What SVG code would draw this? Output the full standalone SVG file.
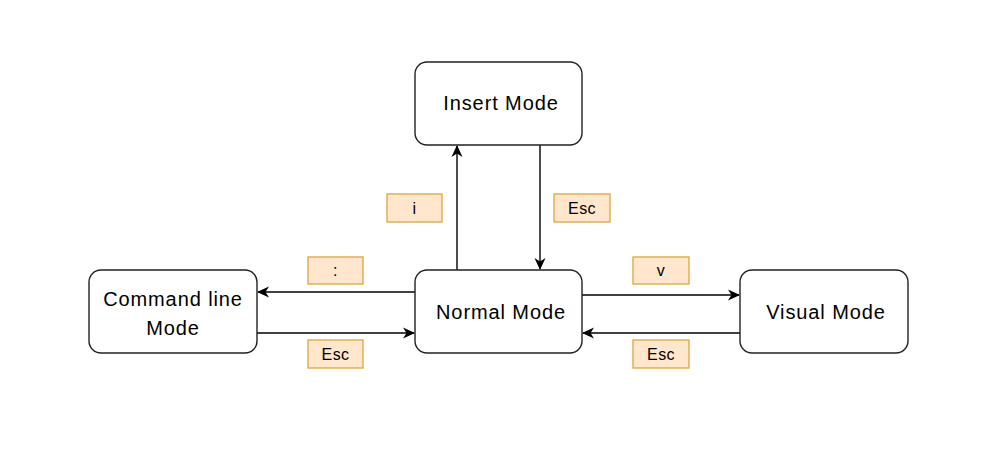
<svg xmlns="http://www.w3.org/2000/svg" width="1008" height="451" viewBox="0 0 1008 451">
<defs>
<style>
.node{fill:#fff;stroke:#222;stroke-width:1.4}
.nt{font-family:"Liberation Sans",Arial,sans-serif;font-size:20px;letter-spacing:0.9px;fill:#000;text-anchor:middle;dominant-baseline:central}
.lb{fill:#ffe6cc;stroke:#dfab48;stroke-width:1.4}
.lt{font-family:"Liberation Sans",Arial,sans-serif;font-size:16px;letter-spacing:0.4px;fill:#000;text-anchor:middle;dominant-baseline:central}
.edge{stroke:#000;stroke-width:1.4;fill:none;marker-end:url(#arr)}
</style>
<marker id="arr" viewBox="0 0 12 12" refX="11" refY="6" markerWidth="12" markerHeight="12" markerUnits="userSpaceOnUse" orient="auto">
<path d="M0,0.5 L12,6 L0,11.5 L3.5,6 Z" fill="#000"/>
</marker>
</defs>
<rect width="1008" height="451" fill="#fff"/>
<g id="connectors">
<path class="edge" d="M457,270 L457,146"/>
<path class="edge" d="M540,145 L540,269"/>
<path class="edge" d="M415,292 L258,292"/>
<path class="edge" d="M257,333 L414,333"/>
<path class="edge" d="M582,295 L739,295"/>
<path class="edge" d="M740,333 L583,333"/>
</g>
<g id="insert"><rect class="node" x="415" y="62" width="167" height="83" rx="12"/><text class="nt" x="501" y="103">Insert Mode</text></g>
<g id="normal"><rect class="node" x="415" y="270" width="167" height="83" rx="12"/><text class="nt" x="501" y="312">Normal Mode</text></g>
<g id="cmdline"><rect class="node" x="89" y="270" width="168" height="83" rx="12"/><text class="nt" x="173" y="312"><tspan x="173" y="299">Command line</tspan><tspan x="173" y="328">Mode</tspan></text></g>
<g id="visual"><rect class="node" x="740" y="270" width="168" height="83" rx="12"/><text class="nt" x="826" y="312">Visual Mode</text></g>
<g id="lbl-i"><rect class="lb" x="387" y="194" width="55" height="28"/><text class="lt" x="414.5" y="208">i</text></g>
<g id="lbl-esc-insert"><rect class="lb" x="554" y="194" width="56" height="28"/><text class="lt" x="582" y="208">Esc</text></g>
<g id="lbl-colon"><rect class="lb" x="308" y="257" width="55" height="27"/><text class="lt" x="335.5" y="270">:</text></g>
<g id="lbl-esc-cmd"><rect class="lb" x="308" y="340" width="55" height="28"/><text class="lt" x="335.5" y="354">Esc</text></g>
<g id="lbl-v"><rect class="lb" x="633" y="257" width="56" height="27"/><text class="lt" x="661" y="270">v</text></g>
<g id="lbl-esc-visual"><rect class="lb" x="633" y="340" width="56" height="28"/><text class="lt" x="661" y="354">Esc</text></g>
</svg>
